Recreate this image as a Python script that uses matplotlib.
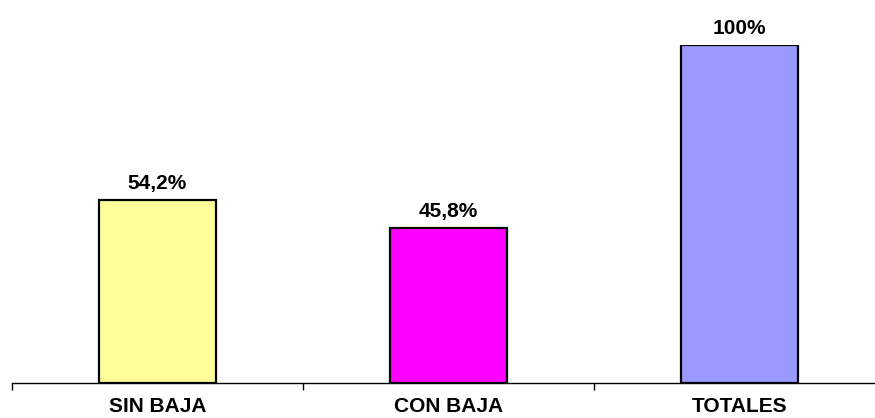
import matplotlib
matplotlib.use("Agg")
import matplotlib.pyplot as plt

categories = ["SIN BAJA", "CON BAJA", "TOTALES"]
values = [54.2, 45.8, 100.0]
value_labels = ["54,2%", "45,8%", "100%"]
colors = ["#FFFF99", "#FF00FF", "#9999FF"]

plt.rcParams['font.family'] = ['Liberation Sans', 'DejaVu Sans']

W, H = 875, 418
fig = plt.figure(figsize=(W / 100, H / 100), dpi=100)
left = 12 / W
right = 885 / W
bottom = (H - 383) / H
top = (H - 45) / H
ax = fig.add_axes([left, bottom, right - left, top - bottom])

x = list(range(len(categories)))
ax.bar(x, values, width=0.40, color=colors, edgecolor="black", linewidth=1.6, zorder=3)
for xi, v, lab in zip(x, values, value_labels):
    ax.annotate(lab, (xi, v), xytext=(0, 8), textcoords="offset points",
                ha="center", va="baseline", fontsize=15, fontweight="bold", clip_on=False)

ax.set_xlim(-0.5, len(categories) - 0.5)
ax.set_ylim(0, 100)
for s in ["top", "right", "left"]:
    ax.spines[s].set_visible(False)
ax.spines["bottom"].set_linewidth(1.0)
ax.set_yticks([])
ax.set_xticks(x)
ax.set_xticklabels(categories, fontsize=15, fontweight="bold")
ax.tick_params(axis="x", which="major", length=0, pad=10)
ax.set_xticks([i - 0.5 for i in range(len(categories) + 1)], minor=True)
ax.tick_params(axis="x", which="minor", length=5, width=1.0, direction="out")

fig.savefig("out.png", dpi=100)
